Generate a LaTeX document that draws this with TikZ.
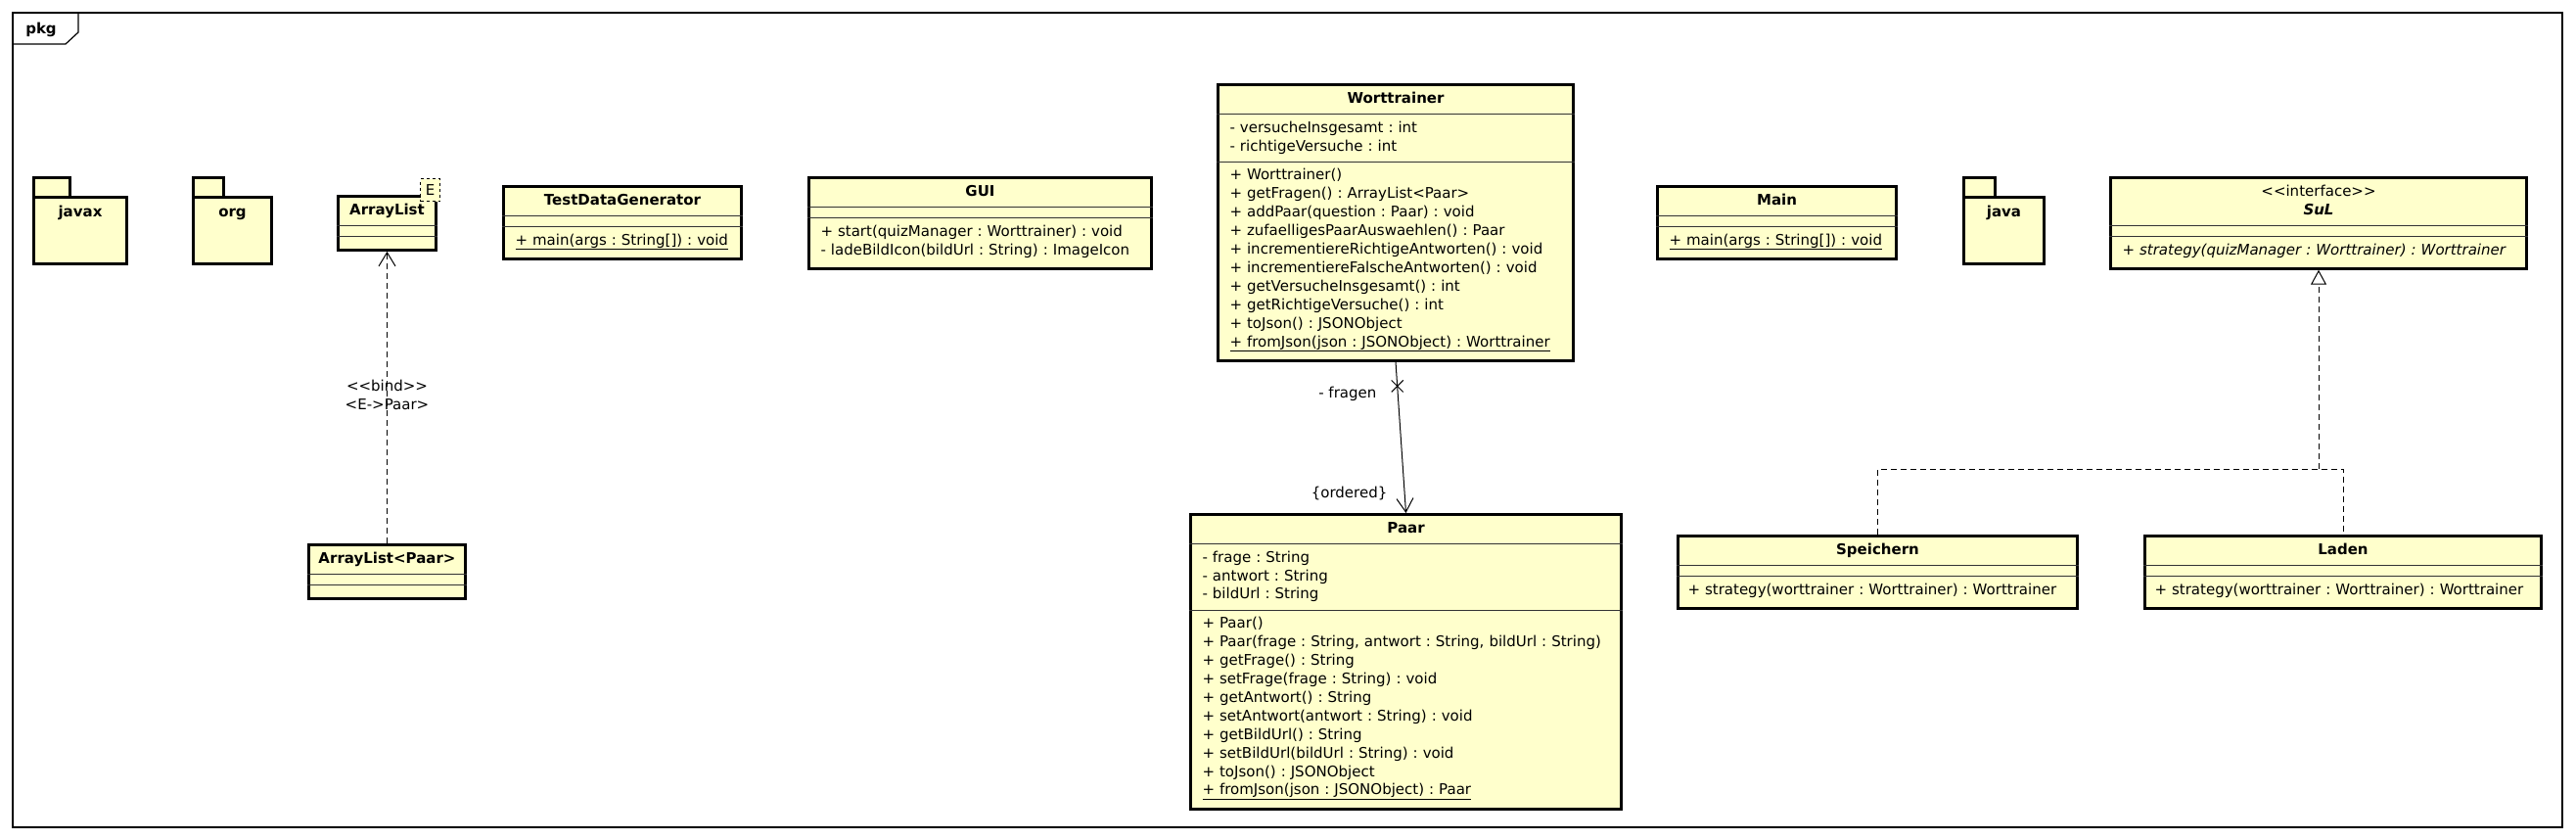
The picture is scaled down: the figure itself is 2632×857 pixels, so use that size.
\documentclass[tikz,border=0pt]{standalone}
\usepackage{fontspec}
\setmainfont{DejaVu Sans}[Ligatures=TeXOff]
\usetikzlibrary{arrows.meta, positioning, shapes.multipart, shapes.misc, calc}
\definecolor{umlyellow}{RGB}{255,255,204}
\newcommand{\umlfont}{\fontsize{15pt}{18.9pt}\selectfont\frenchspacing}
\newcommand{\opend}{\rule[-8.7pt]{0pt}{8.7pt}}
\newcommand{\noop}{\rule{0pt}{3pt}}
\newcommand{\cname}[1]{\makebox[\hsize]{\strut#1}}
\tikzset{
  %% class boxes
  cbox/.style    = {rectangle split, rectangle split parts=3, rectangle split draw splits=false,
                    rectangle split empty part height=0pt, draw, line width=3pt, fill=umlyellow,
                    align=left, inner xsep=12pt, inner ysep=4pt, anchor=north west,
                    append after command={(\tikzlastnode.one split west) edge[sepline] (\tikzlastnode.one split east)
                                          (\tikzlastnode.two split west) edge[sepline] (\tikzlastnode.two split east)}},
  sepline/.style = {draw=black!80, line width=1pt},
  tparam/.style  = {draw, dashed, line width=1pt, fill=umlyellow, inner sep=0pt, minimum width=20pt, minimum height=23pt},
  %% packages
  pkgbody/.style = {draw, line width=3pt, fill=umlyellow, font=\umlfont\bfseries, inner sep=0pt,
                    text height=20pt, text depth=48pt, anchor=north west},
  pkgtab/.style  = {draw, line width=3pt, fill=umlyellow, inner sep=0pt, outer sep=0pt,
                    minimum height=20pt, anchor=south west, xshift=1.5pt, yshift=-1.5pt},
  %% connectors
  bindarr/.style  = {line width=1pt, dash pattern=on 6pt off 4pt, -{Straight Barb[length=14pt, width=17pt]}},
  assocarr/.style = {line width=1pt, -{Straight Barb[length=14pt, width=17pt]}},
  realarr/.style  = {line width=1pt, dash pattern=on 6pt off 4pt},
  xmark/.style    = {cross out, draw, line width=1pt, minimum size=11pt, inner sep=0pt},
}

\begin{document}
\begin{tikzpicture}[x=1pt, y=-1pt, line width=1pt, font=\umlfont]
\useasboundingbox (0,0) rectangle (2632,857);

%% ---- Frame ----
\node[draw, line width=1.2pt, inner sep=0pt, outer sep=0pt, anchor=north west,
      minimum width=2605pt, minimum height=832pt] (pkgframe) at (13,13) {};
\draw[line width=1.2pt] (13,45) -- (67,45) -- (80,33) -- (80,13);
\node[font=\umlfont\bfseries] (pkgname) at (42,30) {pkg};

%% ---- Packages ----
\node[pkgtab, minimum width=37pt] (javaxtab) at (33,200) {};
\node[pkgbody, minimum width=95pt] (javax) at (33,200) {javax};

\node[pkgtab, minimum width=31pt] (orgtab) at (196,200) {};
\node[pkgbody, minimum width=80pt] (org) at (196,200) {org};

\node[pkgtab, minimum width=32pt] (javatab) at (2005,200) {};
\node[pkgbody, minimum width=82pt] (java) at (2005,200) {java};

%% ---- ArrayList (template) ----
\node[cbox, inner xsep=10pt, text width=80pt] (arraylist) at (344,199) {
  \cname{\textbf{ArrayList}}
  \nodepart{two}
  \nodepart{three}\noop
};
\node[tparam, anchor=north east] (arrayparam) at ([xshift=3pt, yshift=17pt]arraylist.north east) {E};

%% ---- ArrayList<Paar> ----
\node[cbox, inner xsep=9pt, text width=142pt] (arraylistpaar) at (314,555) {
  \cname{\textbf{ArrayList<Paar>}}
  \nodepart{two}
  \nodepart{three}\noop
};

\draw[bindarr] (arraylistpaar.north) -- node[pos=0.51, align=center] (bindlbl) {<<bind>>\\<E->Paar>} (arraylist.south);

%% ---- TestDataGenerator ----
\node[cbox, text width=219pt] (testdata) at (513,189) {
  \cname{\textbf{TestDataGenerator}}
  \nodepart{two}
  \nodepart{three}\strut\underline{+ main(args : String[]) : void}\opend
};

%% ---- GUI ----
\node[cbox, text width=326pt] (gui) at (825,180) {
  \cname{\textbf{GUI}}
  \nodepart{two}
  \nodepart{three}\strut+ start(quizManager : Worttrainer) : void\\
  - ladeBildIcon(bildUrl : String) : ImageIcon\opend
};

%% ---- Worttrainer ----
\node[cbox, text width=339pt] (worttrainer) at (1243,85) {
  \cname{\textbf{Worttrainer}}
  \nodepart{two}\strut- versucheInsgesamt : int\\
  - richtigeVersuche : int\strut
  \nodepart{three}\strut+ Worttrainer()\\
  + getFragen() : ArrayList<Paar>\\
  + addPaar(question : Paar) : void\\
  + zufaelligesPaarAuswaehlen() : Paar\\
  + incrementiereRichtigeAntworten() : void\\
  + incrementiereFalscheAntworten() : void\\
  + getVersucheInsgesamt() : int\\
  + getRichtigeVersuche() : int\\
  + toJson() : JSONObject\\
  \underline{+ fromJson(json : JSONObject) : Worttrainer}\opend
};

%% ---- Paar ----
\node[cbox, text width=416pt] (paar) at (1215,524) {
  \cname{\textbf{Paar}}
  \nodepart{two}\strut- frage : String\\
  - antwort : String\\
  - bildUrl : String\strut
  \nodepart{three}\strut+ Paar()\\
  + Paar(frage : String, antwort : String, bildUrl : String)\\
  + getFrage() : String\\
  + setFrage(frage : String) : void\\
  + getAntwort() : String\\
  + setAntwort(antwort : String) : void\\
  + getBildUrl() : String\\
  + setBildUrl(bildUrl : String) : void\\
  + toJson() : JSONObject\\
  \underline{+ fromJson(json : JSONObject) : Paar}\opend
};

%% Worttrainer -> Paar (fragen)
\draw[assocarr] (worttrainer.south)
  -- node[pos=0.16, xmark] (fragenx) {}
     node[pos=0.21, left=18pt] (fragenlbl) {- fragen}
     node[pos=0.87, left=14pt] (orderedlbl) {\{ordered\}}
  (paar.north);

%% ---- Main ----
\node[cbox, text width=220pt] (main) at (1692,189) {
  \cname{\textbf{Main}}
  \nodepart{two}
  \nodepart{three}\strut\underline{+ main(args : String[]) : void}\opend
};

%% ---- SuL (interface) ----
\node[cbox, text width=401pt] (sul) at (2155,180) {
  \cname{<<interface>>}\\
  \cname{\textbf{\textit{SuL}}}
  \nodepart{two}
  \nodepart{three}\strut\textit{+ strategy(quizManager : Worttrainer) : Worttrainer}\opend
};

%% ---- Speichern / Laden ----
\node[cbox, inner xsep=10pt, text width=388pt] (speichern) at (1713,546) {
  \cname{\textbf{Speichern}}
  \nodepart{two}
  \nodepart{three}\strut+ strategy(worttrainer : Worttrainer) : Worttrainer\opend
};
\node[cbox, inner xsep=10pt, text width=385pt] (laden) at (2190,546) {
  \cname{\textbf{Laden}}
  \nodepart{two}
  \nodepart{three}\strut+ strategy(worttrainer : Worttrainer) : Worttrainer\opend
};

%% Realizations -> SuL
\coordinate (impljoin) at ($(sul.south |- speichern.north)+(0,-67)$);
\draw[realarr] (speichern.north) |- (impljoin) -| (laden.north);
\draw[realarr, -{Triangle[open, length=15pt, width=16pt]}] (impljoin) -- (sul.south);

\end{tikzpicture}
\end{document}
